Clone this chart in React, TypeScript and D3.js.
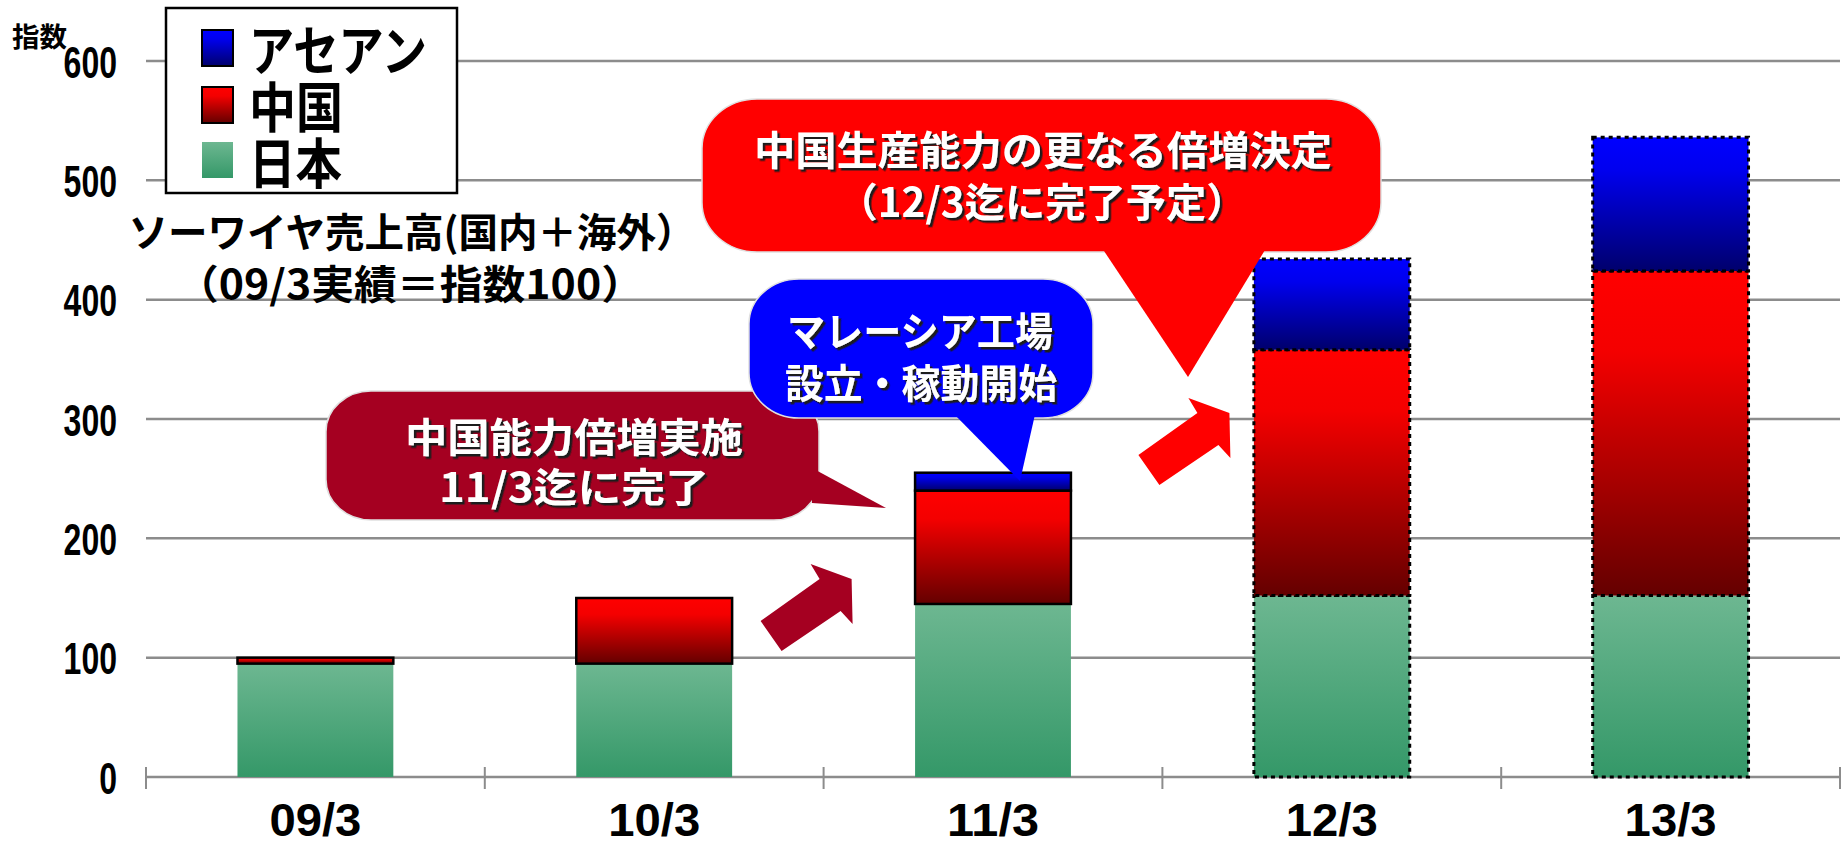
import { useEffect, useRef } from "react";
import * as d3 from "d3";

const CATEGORIES = ["09/3", "10/3", "11/3", "12/3", "13/3"];
const JAPAN = [95, 95, 145, 152, 152];
const CHINA = [5, 55, 95, 206, 272];
const ASEAN = [0, 0, 15, 76, 112];
// 12/3 and 13/3 are plans -> dashed outline
const PLANNED = [false, false, false, true, true];
const Y_TICKS = [0, 100, 200, 300, 400, 500, 600];

const LEGEND_LABELS = ["アセアン", "中国", "日本"];
const TITLE_LINES = ["ソーワイヤ売上高(国内＋海外）", "（09/3実績＝指数100）"];

const W = 1843;
const H = 850;
const JP = '"Noto Sans CJK JP", "Noto Sans CJK SC", sans-serif';
const NUM = '"Liberation Sans", Arial, sans-serif';

type Row = { cat: string; japan: number; china: number; asean: number; planned: boolean };

export default function App() {
  const svgRef = useRef<SVGSVGElement | null>(null);

  useEffect(() => {
    const svg = svgRef.current;
    if (!svg) return;
    svg.innerHTML = "";

    const root = d3.select(svg).attr("width", W).attr("height", H);

    const rows: Row[] = CATEGORIES.map((c, i) => ({
      cat: c,
      japan: JAPAN[i],
      china: CHINA[i],
      asean: ASEAN[i],
      planned: PLANNED[i],
    }));

    const x = d3.scaleBand().domain(CATEGORIES).range([146, 1840]).padding(0);
    const y = d3.scaleLinear().domain([0, 600]).range([777, 61]);
    const bw = x.bandwidth() * 0.46;
    const barX = (c: string) => x(c)! + (x.bandwidth() - bw) / 2;

    // gradients + text shadow
    const defs = root.append("defs");
    const grad = (id: string, stops: [number, string][]) => {
      const g = defs.append("linearGradient").attr("id", id)
        .attr("x1", 0).attr("y1", 0).attr("x2", 0).attr("y2", 1);
      stops.forEach(([o, c]) => g.append("stop").attr("offset", o).attr("stop-color", c));
    };
    grad("g-green", [[0, "#6db791"], [1, "#349868"]]);
    grad("g-red", [[0, "#ff0000"], [0.25, "#f40000"], [1, "#640000"]]);
    grad("g-blue", [[0, "#0000ff"], [0.25, "#0000ee"], [1, "#00006c"]]);
    defs.append("filter").attr("id", "txt-shadow")
      .attr("x", "-5%").attr("y", "-10%").attr("width", "110%").attr("height", "130%")
      .append("feDropShadow")
      .attr("dx", 2.5).attr("dy", 2.5).attr("stdDeviation", 0.3)
      .attr("flood-color", "#1a1a1a").attr("flood-opacity", 1);

    // gridlines
    root.append("g")
      .selectAll("line")
      .data(Y_TICKS.filter((t) => t > 0))
      .join("line")
      .attr("x1", 146).attr("x2", 1840)
      .attr("y1", (d) => y(d)).attr("y2", (d) => y(d))
      .attr("stroke", "#8c8c8c").attr("stroke-width", 2.5);

    // x axis
    const axisG = root.append("g");
    axisG.append("line")
      .attr("x1", 146).attr("x2", 1840).attr("y1", y(0)).attr("y2", y(0))
      .attr("stroke", "#8c8c8c").attr("stroke-width", 2.5);
    const bounds = CATEGORIES.map((c) => x(c)!).concat([x.range()[1]]);
    axisG.selectAll("line.tick")
      .data(bounds)
      .join("line")
      .attr("class", "tick")
      .attr("x1", (d) => d).attr("x2", (d) => d)
      .attr("y1", y(0) - 10).attr("y2", y(0) + 12)
      .attr("stroke", "#8c8c8c").attr("stroke-width", 2);

    axisG.selectAll("text")
      .data(CATEGORIES)
      .join("text")
      .attr("x", (d) => x(d)! + x.bandwidth() / 2)
      .attr("y", 819)
      .attr("text-anchor", "middle")
      .attr("dominant-baseline", "central")
      .attr("font-family", NUM)
      .attr("font-weight", 700)
      .attr("font-size", 47)
      .attr("textLength", 92)
      .attr("lengthAdjust", "spacingAndGlyphs")
      .text((d) => d);

    // y tick labels
    root.append("g")
      .selectAll("text")
      .data(Y_TICKS)
      .join("text")
      .attr("x", 117)
      .attr("y", (d) => y(d) + 1)
      .attr("text-anchor", "end")
      .attr("dominant-baseline", "central")
      .attr("font-family", NUM)
      .attr("font-weight", 700)
      .attr("font-size", 45)
      .attr("textLength", (d) => String(d).length * 17.8)
      .attr("lengthAdjust", "spacingAndGlyphs")
      .text((d) => d);

    // stacked bars
    const stack = d3.stack<Row>().keys(["japan", "china", "asean"]);
    const layers = stack(rows);
    const fills: Record<string, string> = { japan: "url(#g-green)", china: "url(#g-red)", asean: "url(#g-blue)" };

    layers.forEach((layer) => {
      root.append("g")
        .selectAll("rect")
        .data(layer.filter((d) => d[1] - d[0] > 0))
        .join("rect")
        .attr("x", (d) => barX(d.data.cat))
        .attr("width", bw)
        .attr("y", (d) => y(d[1]))
        .attr("height", (d) => y(d[0]) - y(d[1]))
        .attr("fill", fills[layer.key])
        .attr("stroke", (d) => (d.data.planned || layer.key !== "japan" ? "#000" : "none"))
        .attr("stroke-width", (d) => (d.data.planned ? 3 : 2.5))
        .attr("stroke-dasharray", (d) => (d.data.planned ? "4 4" : null));
    });

    // block arrows (tip-relative outline)
    const arrowShape: [number, number][] = [
      [-91, 42], [-32, 0], [-41, -15], [0, 0], [1, 45], [-11, 32], [-70, 72],
    ];
    const arrows = [
      { tx: x("11/3")! + 28, ty: y(166), fill: "#a50021" },
      { tx: x("12/3")! + 67, ty: y(305), fill: "#ff0000" },
    ];
    arrows.forEach((a) => {
      root.append("polygon")
        .attr("points", arrowShape.map(([dx, dy]) => `${a.tx + dx},${a.ty + dy}`).join(" "))
        .attr("fill", a.fill);
    });

    // callouts
    type Callout = {
      box: [number, number, number, number];
      r: number;
      tail: [number, number][];
      fill: string;
      lines: { text: string; cx: number; cy: number; len: number }[];
    };
    const callouts: Callout[] = [
      {
        box: [326, 391, 493, 129], r: 45, fill: "#a50021",
        tail: [[812, 468], [812, 503], [886, 508]],
        lines: [
          { text: "中国能力倍増実施", cx: 574, cy: 435, len: 338 },
          { text: "11/3迄に完了", cx: 574, cy: 485, len: 270 },
        ],
      },
      {
        box: [749, 279, 344, 139], r: 50, fill: "#0000ff",
        tail: [[950, 410], [1036, 410], [1020, 481]],
        lines: [
          { text: "マレーシア工場", cx: 920, cy: 329, len: 266 },
          { text: "設立・稼動開始", cx: 921, cy: 381, len: 272 },
        ],
      },
      {
        box: [702, 99, 679, 153], r: 55, fill: "#ff0000",
        tail: [[1100, 245], [1268, 245], [1188, 377]],
        lines: [
          { text: "中国生産能力の更なる倍増決定", cx: 1043, cy: 148, len: 578 },
          { text: "（12/3迄に完了予定）", cx: 1042, cy: 200, len: 409 },
        ],
      },
    ];

    callouts.forEach((c) => {
      const g = root.append("g");
      const [bx, by, bwid, bh] = c.box;
      g.append("rect")
        .attr("x", bx).attr("y", by).attr("width", bwid).attr("height", bh)
        .attr("rx", c.r).attr("ry", c.r * 0.9)
        .attr("fill", c.fill)
        .attr("stroke", "#e0e0e0").attr("stroke-width", 1.5);
      g.append("polygon")
        .attr("points", c.tail.map((p) => p.join(",")).join(" "))
        .attr("fill", c.fill);
      c.lines.forEach((l) => {
        g.append("text")
          .attr("x", l.cx)
          .attr("y", l.cy)
          .attr("text-anchor", "middle")
          .attr("dominant-baseline", "central")
          .attr("font-family", JP)
          .attr("font-weight", 700)
          .attr("font-size", 40)
          .attr("textLength", l.len)
          .attr("lengthAdjust", "spacingAndGlyphs")
          .attr("fill", "#fff")
          .attr("filter", "url(#txt-shadow)")
          .text(l.text);
      });
    });

    // legend
    const lg = root.append("g");
    lg.append("rect")
      .attr("x", 166).attr("y", 8).attr("width", 291).attr("height", 185)
      .attr("fill", "#fff").attr("stroke", "#000").attr("stroke-width", 2.5);
    const legendItems = [
      { label: LEGEND_LABELS[0], fill: "url(#g-blue)", stroke: true, sy: 30, ty: 47, len: 178 },
      { label: LEGEND_LABELS[1], fill: "url(#g-red)", stroke: true, sy: 87, ty: 104, len: 94 },
      { label: LEGEND_LABELS[2], fill: "url(#g-green)", stroke: false, sy: 142, ty: 160, len: 93 },
    ];
    legendItems.forEach((it) => {
      lg.append("rect")
        .attr("x", 202).attr("y", it.sy).attr("width", 31).attr("height", 36)
        .attr("fill", it.fill)
        .attr("stroke", it.stroke ? "#000" : "none").attr("stroke-width", 2);
      lg.append("text")
        .attr("x", 249).attr("y", it.ty)
        .attr("dominant-baseline", "central")
        .attr("font-family", JP).attr("font-weight", 700).attr("font-size", 54)
        .attr("textLength", it.len).attr("lengthAdjust", "spacingAndGlyphs")
        .text(it.label);
    });

    // y-axis unit
    root.append("text")
      .attr("x", 12).attr("y", 35)
      .attr("dominant-baseline", "central")
      .attr("font-family", JP).attr("font-weight", 700).attr("font-size", 27)
      .attr("textLength", 55).attr("lengthAdjust", "spacingAndGlyphs")
      .text("指数");

    // chart title
    const titlePos = [
      { cx: 412, cy: 230, len: 567 },
      { cx: 410, cy: 282, len: 468 },
    ];
    TITLE_LINES.forEach((t, i) => {
      root.append("text")
        .attr("x", titlePos[i].cx).attr("y", titlePos[i].cy)
        .attr("text-anchor", "middle")
        .attr("dominant-baseline", "central")
        .attr("font-family", JP).attr("font-weight", 700).attr("font-size", 40)
        .attr("textLength", titlePos[i].len).attr("lengthAdjust", "spacingAndGlyphs")
        .text(t);
    });
  }, []);

  return (
    <svg
      ref={svgRef}
      style={{ position: "absolute", left: 0, top: 0, background: "#fff" }}
      role="img"
      aria-label="ソーワイヤ売上高 stacked bar chart"
    />
  );
}
